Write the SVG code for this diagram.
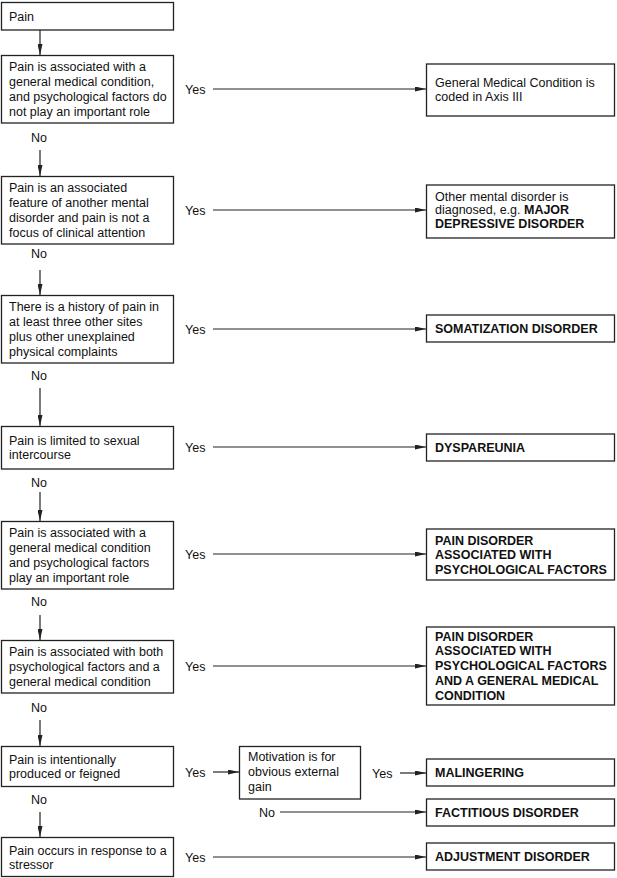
<svg xmlns="http://www.w3.org/2000/svg" width="617" height="878" viewBox="0 0 617 878">
<style>
rect{fill:#fff;stroke:#222;stroke-width:1.3}
text{font-family:"Liberation Sans",Arial,sans-serif;font-size:12.5px;fill:#111}
.b{font-weight:bold}
.c line{stroke:#222;stroke-width:1.2;marker-end:url(#ah)}
</style>
<defs>
<marker id="ah" markerUnits="userSpaceOnUse" markerWidth="11" markerHeight="5" refX="11" refY="2.5" orient="auto">
<path d="M0,0 L11,2.5 L0,5 z" fill="#222"/>
</marker>
</defs>
<rect x="0" y="0" width="617" height="878" style="fill:#fff;stroke:none"/>
<g id="n-pain"><rect x="1.5" y="2.5" width="172" height="27.5"/><text x="9" y="20.5">Pain</text></g>
<g id="n-q1"><rect x="1.5" y="55.5" width="172" height="67.5"/>
<text x="9" y="71.3">Pain is associated with a</text><text x="9" y="86.1">general medical condition,</text><text x="9" y="100.9">and psychological factors do</text><text x="9" y="115.7">not play an important role</text></g>
<g id="n-q2"><rect x="1.5" y="176.5" width="172" height="67.5"/>
<text x="9" y="192.3">Pain is an associated</text><text x="9" y="207.1">feature of another mental</text><text x="9" y="221.9">disorder and pain is not a</text><text x="9" y="236.7">focus of clinical attention</text></g>
<g id="n-q3"><rect x="1.5" y="295.5" width="172" height="67.5"/>
<text x="9" y="311.3">There is a history of pain in</text><text x="9" y="326.1">at least three other sites</text><text x="9" y="340.9">plus other unexplained</text><text x="9" y="355.7">physical complaints</text></g>
<g id="n-q4"><rect x="1.5" y="426.5" width="172" height="42.5"/>
<text x="9" y="444.6">Pain is limited to sexual</text><text x="9" y="459.4">intercourse</text></g>
<g id="n-q5"><rect x="1.5" y="521.5" width="172" height="67.5"/>
<text x="9" y="537.3">Pain is associated with a</text><text x="9" y="552.1">general medical condition</text><text x="9" y="566.9">and psychological factors</text><text x="9" y="581.7">play an important role</text></g>
<g id="n-q6"><rect x="1.5" y="640.5" width="172" height="52.5"/>
<text x="9" y="656.4">Pain is associated with both</text><text x="9" y="671.2">psychological factors and a</text><text x="9" y="686">general medical condition</text></g>
<g id="n-q7"><rect x="1.5" y="746.5" width="172" height="40"/>
<text x="9" y="763.6">Pain is intentionally</text><text x="9" y="778.4">produced or feigned</text></g>
<g id="n-q8"><rect x="1.5" y="837.5" width="172" height="39"/>
<text x="9" y="854.6">Pain occurs in response to a</text><text x="9" y="869.4">stressor</text></g>
<g id="n-motiv"><rect x="239.5" y="746.5" width="121" height="52.5"/>
<text x="248" y="761.2">Motivation is for</text><text x="248" y="776.2">obvious external</text><text x="248" y="791.2">gain</text></g>
<g id="n-r1"><rect x="426.5" y="64" width="188" height="52"/>
<text x="435" y="87.3">General Medical Condition is</text><text x="435" y="101.1">coded in Axis III</text></g>
<g id="n-r2"><rect x="426.5" y="185" width="188" height="53"/>
<text x="435" y="200.5">Other mental disorder is</text><text x="435" y="214.3">diagnosed, e.g. <tspan class="b">MAJOR</tspan></text><text x="435" y="228.1" class="b">DEPRESSIVE DISORDER</text></g>
<g id="n-r3"><rect x="426.5" y="315" width="188" height="27"/><text x="435" y="333" class="b">SOMATIZATION DISORDER</text></g>
<g id="n-r4"><rect x="426.5" y="434" width="188" height="27"/><text x="435" y="452" class="b">DYSPAREUNIA</text></g>
<g id="n-r5"><rect x="426.5" y="529" width="188" height="51"/>
<text x="435" y="544.5" class="b">PAIN DISORDER</text><text x="435" y="559.3" class="b">ASSOCIATED WITH</text><text x="435" y="574.1" class="b">PSYCHOLOGICAL FACTORS</text></g>
<g id="n-r6"><rect x="426.5" y="627" width="188" height="78"/>
<text x="435" y="640.6" class="b">PAIN DISORDER</text><text x="435" y="655.4" class="b">ASSOCIATED WITH</text><text x="435" y="670.2" class="b">PSYCHOLOGICAL FACTORS</text><text x="435" y="685" class="b">AND A GENERAL MEDICAL</text><text x="435" y="699.8" class="b">CONDITION</text></g>
<g id="n-r7"><rect x="426.5" y="759" width="188" height="27"/><text x="435" y="777" class="b">MALINGERING</text></g>
<g id="n-r8"><rect x="426.5" y="799" width="188" height="27"/><text x="435" y="817" class="b">FACTITIOUS DISORDER</text></g>
<g id="n-r9"><rect x="426.5" y="843" width="188" height="27"/><text x="435" y="861" class="b">ADJUSTMENT DISORDER</text></g>
<g id="connectors" class="c">
<line x1="40" y1="30" x2="40" y2="55"/>
<line x1="40" y1="150" x2="40" y2="176"/>
<line x1="40" y1="270" x2="40" y2="295"/>
<line x1="40" y1="388" x2="40" y2="426"/>
<line x1="40" y1="492" x2="40" y2="521"/>
<line x1="40" y1="615" x2="40" y2="640"/>
<line x1="40" y1="720" x2="40" y2="746"/>
<line x1="40" y1="812" x2="40" y2="837"/>
<line x1="213" y1="89" x2="426" y2="89"/>
<line x1="213" y1="210" x2="426" y2="210"/>
<line x1="213" y1="329" x2="426" y2="329"/>
<line x1="213" y1="447" x2="426" y2="447"/>
<line x1="213" y1="554" x2="426" y2="554"/>
<line x1="213" y1="666" x2="426" y2="666"/>
<line x1="213" y1="772" x2="239" y2="772"/>
<line x1="400" y1="773" x2="426" y2="773"/>
<line x1="280" y1="812" x2="426" y2="812"/>
<line x1="213" y1="857" x2="426" y2="857"/>
</g>
<g id="labels">
<text x="31" y="141.5">No</text>
<text x="31" y="257.5">No</text>
<text x="31" y="379.5">No</text>
<text x="31" y="486.5">No</text>
<text x="31" y="605.5">No</text>
<text x="31" y="711.5">No</text>
<text x="31" y="803.5">No</text>
<text x="185" y="93.5">Yes</text>
<text x="185" y="214.5">Yes</text>
<text x="185" y="333.5">Yes</text>
<text x="185" y="451.5">Yes</text>
<text x="185" y="558.5">Yes</text>
<text x="185" y="670.5">Yes</text>
<text x="185" y="776.5">Yes</text>
<text x="372" y="777.5">Yes</text>
<text x="259" y="816.5">No</text>
<text x="185" y="861.5">Yes</text>
</g>
</svg>
